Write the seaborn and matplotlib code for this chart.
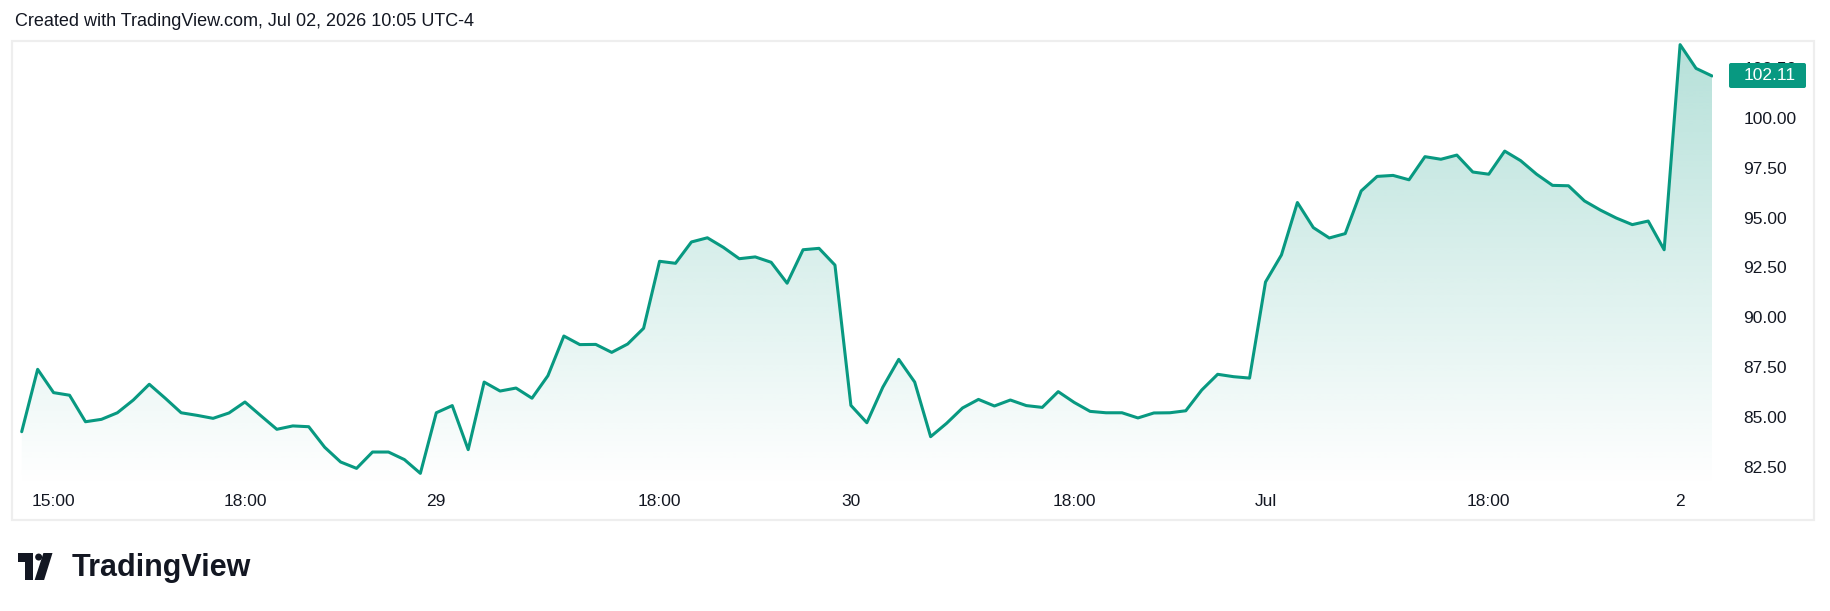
import numpy as np
import matplotlib
matplotlib.use("Agg")
import matplotlib.pyplot as plt
import seaborn as sns
from matplotlib.patches import Rectangle, Circle, Polygon, FancyBboxPatch
from matplotlib.transforms import Affine2D

# ---------------- data ----------------
prices = [84.26, 87.39, 86.22, 86.09, 84.76, 84.88, 85.21, 85.85, 86.64, 85.94,
          85.21, 85.08, 84.93, 85.20, 85.75, 85.06, 84.38, 84.55, 84.51, 83.48,
          82.74, 82.42, 83.24, 83.24, 82.86, 82.17, 85.21, 85.57, 83.36, 86.75,
          86.30, 86.45, 85.94, 87.07, 89.06, 88.63, 88.64, 88.24, 88.66, 89.45,
          92.81, 92.71, 93.78, 93.99, 93.51, 92.94, 93.03, 92.76, 91.71, 93.39,
          93.46, 92.62, 85.58, 84.71, 86.49, 87.89, 86.75, 84.01, 84.68, 85.45,
          85.88, 85.55, 85.85, 85.57, 85.48, 86.27, 85.73, 85.28, 85.21, 85.21,
          84.95, 85.20, 85.21, 85.31, 86.35, 87.14, 87.02, 86.95, 91.77, 93.13,
          95.76, 94.50, 93.98, 94.20, 96.34, 97.07, 97.12, 96.90, 98.06, 97.93,
          98.14, 97.29, 97.18, 98.34, 97.86, 97.18, 96.62, 96.60, 95.84, 95.38,
          94.98, 94.65, 94.83, 93.39, 103.68, 102.49, 102.11]
bar_index = list(range(len(prices)))
time_tick_bars = [2, 14, 26, 40, 52, 66, 78, 92, 104]
time_tick_labels = ["15:00", "18:00", "29", "18:00", "30", "18:00", "Jul", "18:00", "2"]
price_ticks = [82.5, 85.0, 87.5, 90.0, 92.5, 95.0, 97.5, 100.0, 102.5]
last_price_label = "102.11"
header = "Created with TradingView.com, Jul 02, 2026 10:05 UTC-4"

# ---------------- style ----------------
sns.set_style("white")
plt.rcParams["font.family"] = ["Liberation Sans", "DejaVu Sans"]
TEAL = "#089981"
TXT = "#131722"

W, H = 1830, 611
fig = plt.figure(figsize=(W / 100, H / 100), dpi=100, facecolor="white")
P = Affine2D().scale(1 / W, -1 / H).translate(0, 1) + fig.transFigure

ax_l, ax_r, ax_t, ax_b = 13, 1713, 41, 488
ax = fig.add_axes([ax_l / W, 1 - ax_b / H, (ax_r - ax_l) / W, (ax_b - ax_t) / H])
ax.set_facecolor("white")

sns.lineplot(x=bar_index, y=prices, ax=ax, color=TEAL, linewidth=2.2, zorder=3)

xmin, xmax = -0.5456, 106.063
ymin, ymax = 81.435, 103.864

# gradient area fill
poly = ax.fill_between(bar_index, prices, ymin, color="none", linewidth=0)
grad = np.zeros((256, 2, 4))
grad[..., 0] = 8 / 255
grad[..., 1] = 153 / 255
grad[..., 2] = 129 / 255
grad[..., 3] = np.linspace(0.30, 0.0, 256)[:, None]
img = ax.imshow(grad, extent=[xmin, xmax, ymin, ymax], aspect="auto",
                origin="upper", interpolation="bilinear", zorder=1)
img.set_clip_path(poly.get_paths()[0], transform=ax.transData)

ax.set_xlim(xmin, xmax)
ax.set_ylim(ymin, ymax)
for s in ax.spines.values():
    s.set_visible(False)
ax.grid(False)

ax.set_xticks(time_tick_bars)
ax.set_xticklabels(time_tick_labels)
ax.yaxis.tick_right()
ax.set_yticks(price_ticks)
ax.set_yticklabels([f"{v:.2f}" for v in price_ticks])
ax.tick_params(axis="x", length=0, pad=4, labelsize=12.5, labelcolor=TXT)
ax.tick_params(axis="y", length=0, pad=22, labelsize=12.5, labelcolor=TXT)
ax.set_xlabel("")
ax.set_ylabel("")

# panel border
fig.patches.append(Rectangle((12, 41), 1802, 479, transform=P, fill=False,
                             edgecolor="#EEEEEE", linewidth=1.6, zorder=2))

# last price badge
fig.patches.append(FancyBboxPatch((1729, 63), 77, 25,
                                  boxstyle="round,pad=0,rounding_size=2",
                                  transform=P, facecolor=TEAL, edgecolor="none", zorder=4))
fig.text(1744, 75.5, last_price_label, transform=P, color="white", fontsize=12.5,
         ha="left", va="center", zorder=5)

# header
fig.text(15, 22, header, transform=P, color=TXT, fontsize=13, ha="left", va="center")

# TradingView logo
x0, y0, w, h = 17.5, 553, 35, 27
fig.patches.append(Rectangle((x0, y0), 0.43 * w, 0.34 * h, transform=P,
                             facecolor=TXT, edgecolor="none"))
fig.patches.append(Rectangle((x0 + 0.2 * w, y0), 0.23 * w, h, transform=P,
                             facecolor=TXT, edgecolor="none"))
fig.patches.append(Circle((x0 + 0.605 * w, y0 + 0.15 * h), 0.1 * w, transform=P,
                          facecolor=TXT, edgecolor="none"))
fig.patches.append(Polygon([(x0 + 0.74 * w, y0), (x0 + 1.0 * w, y0),
                            (x0 + 0.76 * w, y0 + h), (x0 + 0.49 * w, y0 + h)],
                           closed=True, transform=P, facecolor=TXT, edgecolor="none"))
fig.text(72, 576, "TradingView", transform=P, color=TXT, fontsize=22,
         fontweight="bold", ha="left", va="baseline")

fig.savefig("out.png", dpi=100, facecolor="white")
